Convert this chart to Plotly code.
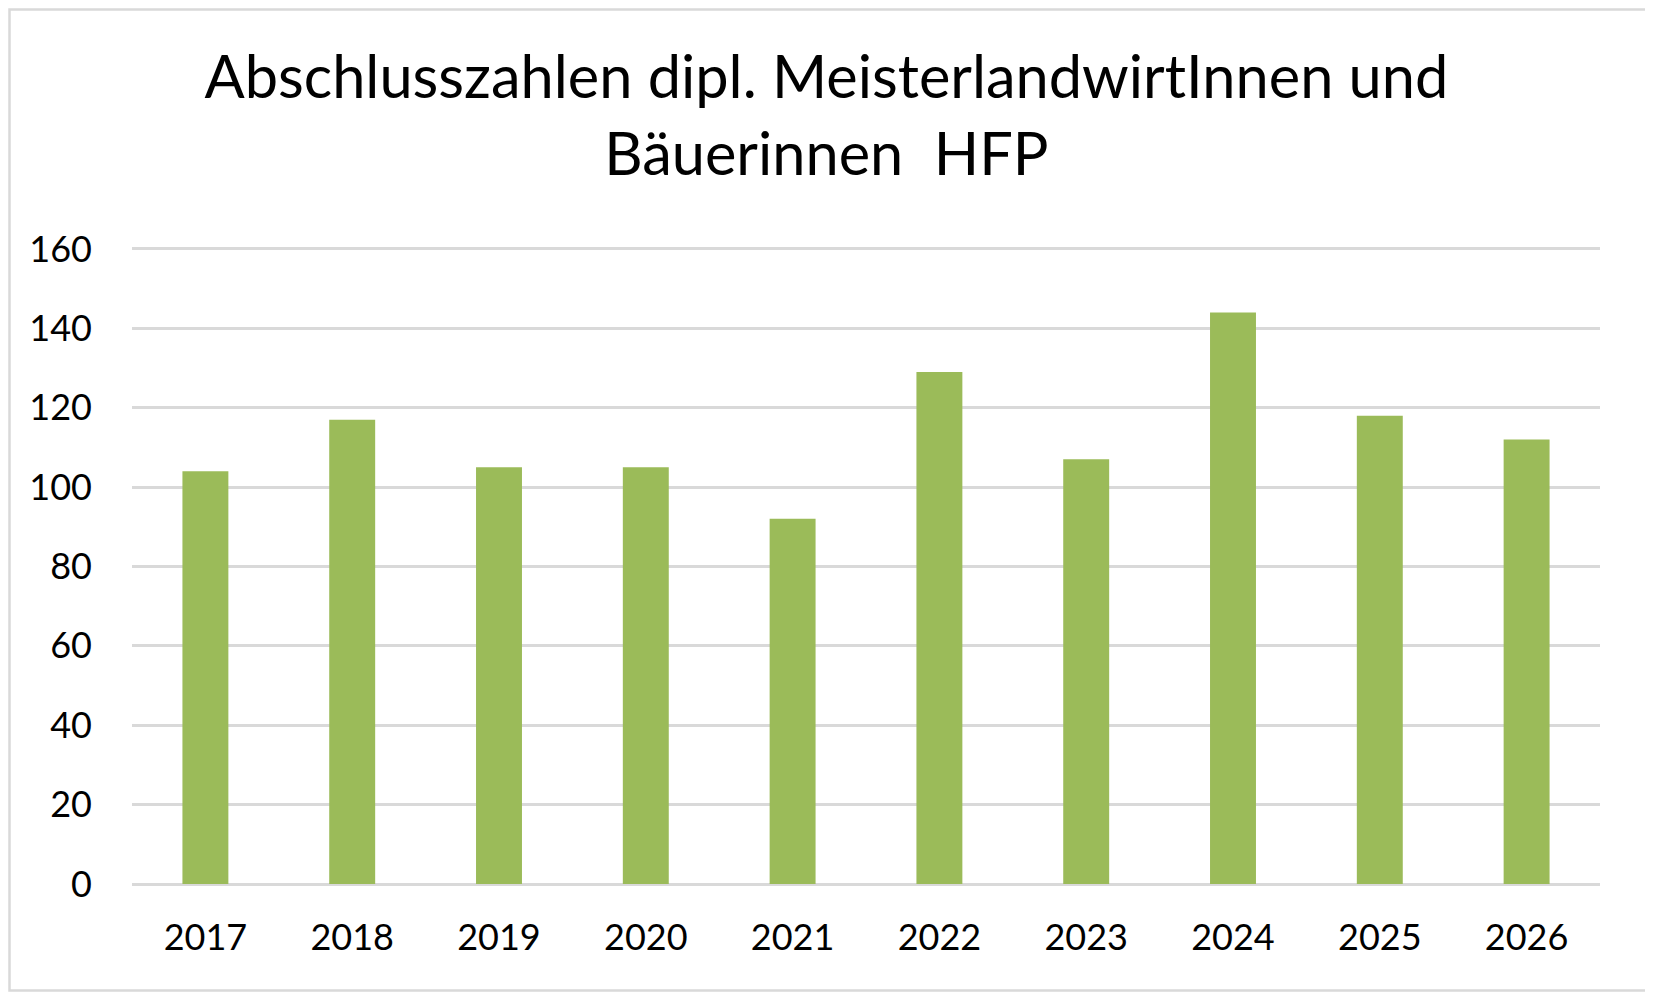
import plotly.graph_objects as go

# Abschlusszahlen pro Jahr
years = ["2017", "2018", "2019", "2020", "2021", "2022", "2023", "2024", "2025", "2026"]
graduates = [104, 117, 105, 105, 92, 129, 107, 144, 118, 112]
y_ticks = [0, 20, 40, 60, 80, 100, 120, 140, 160]

TITLE = "Abschlusszahlen dipl. MeisterlandwirtInnen und<br>Bäuerinnen  HFP"
FONT = "Lato, Calibri, Arial, sans-serif"
GREEN = "#9bbb59"
GRID = "#d9d9d9"

# die html-seite hat 8px body-rand, deshalb etwas kleiner
W, H = 1645, 985
M_L, M_R, M_T, M_B = 124, 53, 239, 109
Y_MAX = 160.5

fig = go.Figure()
fig.add_trace(go.Bar(
    x=years,
    y=graduates,
    marker=dict(color=GREEN, line=dict(width=0)),
    hoverinfo="x+y",
))

# rahmen um das ganze diagramm
pw = W - M_L - M_R
ph = H - M_T - M_B
fig.add_shape(
    type="rect", xref="paper", yref="paper", layer="below",
    x0=(1.5 - M_L) / pw, x1=(W - 3 - M_L) / pw,
    y0=-(M_B - 2.5) / ph, y1=(H - M_B - 1.5) / ph,
    line=dict(color=GRID, width=2.5), fillcolor="rgba(0,0,0,0)",
)

fig.update_layout(
    width=W, height=H,
    margin=dict(l=M_L, r=M_R, t=M_T, b=M_B),
    paper_bgcolor="white", plot_bgcolor="white",
    font=dict(family=FONT, color="#000000"),
    title=dict(
        text=TITLE, x=0.4975, xanchor="center",
        yref="container", y=1 - 90 / H, yanchor="top",
        font=dict(family=FONT, size=59.5, color="#000000"),
    ),
    bargap=0.687,
    showlegend=False,
)
fig.update_xaxes(
    type="category", showgrid=False, showline=False, zeroline=False,
    ticks="", tickfont=dict(size=36), ticklabelstandoff=29,
)
fig.update_yaxes(
    range=[0, Y_MAX], tickvals=y_ticks, showgrid=True, gridcolor=GRID, gridwidth=2.6,
    zeroline=True, zerolinecolor=GRID, zerolinewidth=2.6, showline=False,
    ticks="", tickfont=dict(size=36), ticklabelstandoff=39,
)

fig.write_html("out.html")
